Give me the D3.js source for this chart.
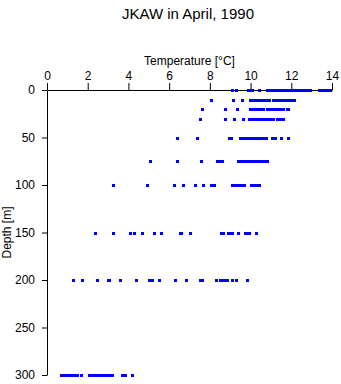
<!DOCTYPE html>
<html><head><meta charset="utf-8">
<script src="https://cdn.jsdelivr.net/npm/d3@7"></script>
<style>
body{margin:0;background:#fff;}
svg{display:block;font-family:"Liberation Sans",Arial,Helvetica,sans-serif;}
</style></head>
<body>
<svg id="chart" width="341" height="384"></svg>
<script>
const title = "JKAW in April, 1990";
const xLabel = "Temperature [°C]";
const yLabel = "Depth [m]";
const xTicks = [0, 2, 4, 6, 8, 10, 12, 14];
const yTicks = [0, 50, 100, 150, 200, 250, 300];
const depths = [0, 10, 20, 30, 50, 75, 100, 150, 200, 300];

const t0 = [9.1, 9.3, 9.87, 9.95, 10.07, 10.4, 10.8, 10.87, 10.95, 11.02, 11.1, 11.18, 11.25, 11.33, 11.4, 11.48, 11.55, 11.63, 11.7, 11.76, 11.84, 11.92, 12.0, 12.07, 12.15, 12.22, 12.3, 12.38, 12.45, 12.53, 12.6, 12.68, 12.76, 12.84, 12.92, 13.35, 13.42, 13.5, 13.58, 13.65, 13.72, 13.8, 13.9];
const t10 = [8.05, 9.14, 9.58, 9.95, 10.03, 10.11, 10.19, 10.27, 10.35, 10.48, 10.56, 10.64, 10.76, 10.84, 10.92, 11.1, 11.18, 11.26, 11.34, 11.42, 11.5, 11.58, 11.62, 11.74, 11.82, 11.9, 12.05, 12.12];
const t20 = [7.61, 8.76, 9.32, 9.95, 10.03, 10.11, 10.19, 10.27, 10.35, 10.43, 10.51, 10.6, 10.82, 10.9, 10.98, 11.06, 11.14, 11.22, 11.3, 11.38, 11.46, 11.54, 11.6, 11.77, 11.84];
const t30 = [7.52, 8.74, 9.17, 9.63, 9.9, 10.0, 10.08, 10.16, 10.24, 10.32, 10.4, 10.48, 10.56, 10.64, 10.72, 10.8, 10.9, 11.07, 11.12, 11.3, 11.38, 11.46, 11.54, 11.6];
const t50 = [6.39, 7.35, 8.95, 9.05, 9.5, 9.58, 9.66, 9.74, 9.82, 9.9, 9.98, 10.06, 10.14, 10.22, 10.3, 10.38, 10.46, 10.54, 10.62, 10.7, 10.78, 11.07, 11.22, 11.48, 11.84];
const t75 = [5.08, 6.39, 7.55, 8.33, 8.42, 8.5, 8.6, 9.37, 9.45, 9.53, 9.61, 9.69, 9.77, 9.85, 9.93, 10.01, 10.09, 10.17, 10.25, 10.33, 10.41, 10.47, 10.6, 10.7, 10.8];
const t100 = [3.24, 4.91, 6.22, 6.66, 7.27, 7.65, 8.05, 8.12, 8.2, 9.08, 9.15, 9.25, 9.35, 9.45, 9.55, 9.67, 10.0, 10.08, 10.16, 10.24, 10.32, 10.41];
const t150 = [2.36, 3.26, 4.1, 4.27, 4.67, 5.26, 5.62, 6.52, 6.58, 7.04, 8.57, 8.65, 8.9, 8.98, 9.07, 9.38, 9.72, 9.8, 9.92, 10.25];
const t200 = [1.28, 1.72, 2.47, 3.0, 3.06, 3.57, 4.36, 4.99, 5.14, 5.52, 6.29, 6.83, 7.5, 7.63, 8.29, 8.52, 8.6, 8.68, 8.76, 8.86, 9.09, 9.3, 9.82];
const t300 = [0.7, 0.78, 0.86, 0.94, 1.02, 1.1, 1.18, 1.26, 1.34, 1.42, 1.49, 1.69, 2.05, 2.13, 2.21, 2.29, 2.37, 2.45, 2.53, 2.61, 2.69, 2.77, 2.85, 2.93, 3.01, 3.09, 3.17, 3.68, 3.84, 4.17];
const tempsByDepth = [t0, t10, t20, t30, t50, t75, t100, t150, t200, t300];

const points = [];
depths.forEach((d, i) => tempsByDepth[i].forEach(t => points.push({depth: d, temp: t})));

const svg = d3.select("#chart");
const x = d3.scaleLinear().domain([0, 14]).range([47, 332]);
const y = d3.scaleLinear().domain([0, 300]).range([90, 375]);

const xAxis = svg.append("g").attr("transform", `translate(0,${y(0)})`)
  .call(d3.axisTop(x).tickValues(xTicks).tickSize(7).tickSizeOuter(0).tickPadding(3));
const yAxis = svg.append("g").attr("transform", `translate(${x(0)},0)`)
  .call(d3.axisLeft(y).tickValues(yTicks).tickSize(5).tickSizeOuter(0).tickPadding(7));
[xAxis, yAxis].forEach(g => {
  g.selectAll("text").attr("font-size", 12).attr("font-family", "Liberation Sans, Arial, sans-serif").attr("fill", "#000");
  g.selectAll("line,path").attr("stroke", "#000");
});

svg.append("g").attr("shape-rendering", "crispEdges").selectAll("rect").data(points).join("rect")
  .attr("x", d => Math.round(x(d.temp)) - 1)
  .attr("y", d => Math.round(y(d.depth)) - 1)
  .attr("width", 3).attr("height", 3)
  .attr("fill", "#0000ff");

svg.append("text").attr("x", 188).attr("y", 19).attr("text-anchor", "middle")
  .attr("font-size", 15).text(title);
svg.append("text").attr("x", (x(0) + x(14)) / 2).attr("y", 65).attr("text-anchor", "middle")
  .attr("font-size", 12).text(xLabel);
svg.append("text").attr("transform", `translate(10.5,${(y(0) + y(300)) / 2}) rotate(-90)`)
  .attr("text-anchor", "middle").attr("font-size", 12).text(yLabel);
</script>
</body></html>
